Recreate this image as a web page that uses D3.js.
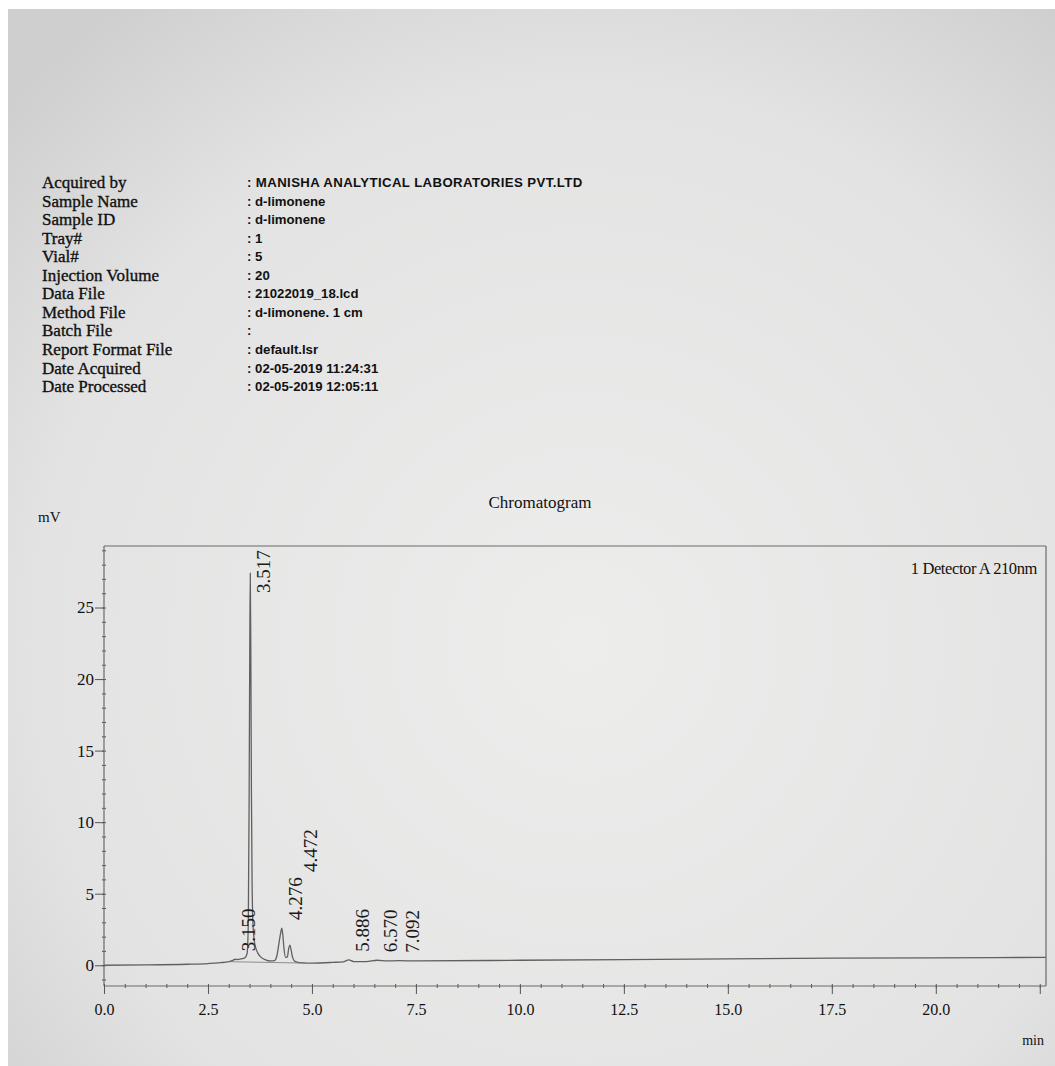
<!DOCTYPE html>
<html>
<head>
<meta charset="utf-8">
<script src="https://cdn.jsdelivr.net/npm/d3@7"></script>
<style>
  html, body { margin: 0; padding: 0; background: #ffffff; }
  svg { display: block; }
</style>
</head>
<body>
<svg id="chart" width="1055" height="1066"></svg>
<script>
// ---------- header data ----------
const headerLabels = ["Acquired by", "Sample Name", "Sample ID", "Tray#", "Vial#", "Injection Volume",
  "Data File", "Method File", "Batch File", "Report Format File", "Date Acquired", "Date Processed"];
const headerValues = [": MANISHA ANALYTICAL LABORATORIES PVT.LTD", ": d-limonene", ": d-limonene", ": 1", ": 5", ": 20",
  ": 21022019_18.lcd", ": d-limonene. 1 cm", ":", ": default.lsr", ": 02-05-2019 11:24:31", ": 02-05-2019 12:05:11"];

// ---------- chart data ----------
const chartTitle = "Chromatogram";
const yUnit = "mV";
const xUnit = "min";
const detectorLabel = "1 Detector A 210nm";

// trace: retention time (min) and signal (mV)
const traceTime = [0.0, 1.0, 2.0, 2.5, 2.8, 3.0, 3.1, 3.15, 3.2, 3.3, 3.38, 3.44, 3.47, 3.49, 3.505, 3.517,
  3.53, 3.545, 3.56, 3.58, 3.61, 3.65, 3.70, 3.78, 3.9, 4.0, 4.1, 4.16, 4.21, 4.25, 4.276, 4.30, 4.33, 4.37,
  4.41, 4.44, 4.472, 4.50, 4.54, 4.60, 4.70, 4.85, 5.0, 5.5, 5.75, 5.886, 6.0, 6.3, 6.570, 6.8, 7.092, 7.5,
  10.0, 12.5, 15.0, 17.5, 20.0, 22.65];
const traceSignal = [0.0, 0.02, 0.07, 0.12, 0.18, 0.25, 0.34, 0.42, 0.40, 0.45, 0.5, 0.8, 3.0, 12.0, 22.0, 27.4,
  22.0, 12.0, 6.0, 3.0, 1.8, 1.2, 0.85, 0.55, 0.36, 0.30, 0.33, 0.7, 1.6, 2.3, 2.6, 2.1, 1.1, 0.55,
  0.6, 1.15, 1.4, 1.05, 0.5, 0.25, 0.18, 0.15, 0.15, 0.2, 0.24, 0.38, 0.26, 0.26, 0.35, 0.3, 0.32, 0.3,
  0.35, 0.4, 0.45, 0.5, 0.52, 0.55];

const peakTimes = [3.150, 3.517, 4.276, 4.472, 5.886, 6.570, 7.092];
const peakHeights = [0.42, 27.4, 2.6, 1.4, 0.38, 0.35, 0.32];

const xMajorTicks = [0, 2.5, 5, 7.5, 10, 12.5, 15, 17.5, 20, 22.5];
const xTickLabels = ["0.0", "2.5", "5.0", "7.5", "10.0", "12.5", "15.0", "17.5", "20.0", ""];
const yMajorTicks = [0, 5, 10, 15, 20, 25];
const xDomain = [0, 22.65];
const yDomain = [-1.45, 29.3];

// ---------- drawing ----------
(function draw() {
const svg = d3.select("#chart");
const W = 1055, H = 1066;
const serif = "'Liberation Serif', 'Times New Roman', serif";
const sans = "'Liberation Sans', Arial, sans-serif";

// paper (photo) background
const defs = svg.append("defs");
const grad = defs.append("radialGradient").attr("id", "paper")
  .attr("cx", "55%").attr("cy", "60%").attr("r", "75%");
grad.append("stop").attr("offset", "0%").attr("stop-color", "#ededec");
grad.append("stop").attr("offset", "70%").attr("stop-color", "#e3e3e3");
grad.append("stop").attr("offset", "100%").attr("stop-color", "#cfcfcf");
svg.append("rect").attr("x", 8).attr("y", 9).attr("width", W - 8).attr("height", H - 9)
  .attr("fill", "url(#paper)");

// header block
const rowY = i => 188 + i * 18.55;
const hdr = svg.append("g").attr("fill", "#111");
hdr.selectAll("text.lbl").data(headerLabels).join("text")
  .attr("class", "lbl")
  .attr("x", 42).attr("y", (d, i) => rowY(i))
  .attr("font-family", serif).attr("font-size", 17)
  .attr("stroke", "#111").attr("stroke-width", 0.35)
  .text(d => d);
hdr.selectAll("text.val").data(headerValues).join("text")
  .attr("class", "val")
  .attr("x", 247).attr("y", (d, i) => rowY(i) - 1)
  .attr("font-family", sans).attr("font-size", 13.2).attr("font-weight", "bold")
  .attr("letter-spacing", (d, i) => i === 0 ? 0.4 : 0)
  .text(d => d);

// plot area
const pLeft = 104, pRight = 1046, pTop = 546, pBottom = 986;
const x = d3.scaleLinear().domain(xDomain).range([pLeft, pRight]);
const y = d3.scaleLinear().domain(yDomain).range([pBottom, pTop]);

const lineColor = "#6a6a6a";

// title and unit labels
svg.append("text").attr("x", 540).attr("y", 508).attr("text-anchor", "middle")
  .attr("font-family", serif).attr("font-size", 17).attr("fill", "#111").text(chartTitle);
svg.append("text").attr("x", 38).attr("y", 522)
  .attr("font-family", serif).attr("font-size", 15).attr("fill", "#111").text(yUnit);
svg.append("text").attr("x", 1044).attr("y", 1045).attr("text-anchor", "end")
  .attr("font-family", serif).attr("font-size", 14).attr("fill", "#111").text(xUnit);
svg.append("text").attr("x", 1037).attr("y", 574).attr("text-anchor", "end")
  .attr("font-family", serif).attr("font-size", 16.5).attr("letter-spacing", -0.4)
  .attr("fill", "#111").text(detectorLabel);

// frame top and right
svg.append("line").attr("x1", pLeft).attr("x2", pRight).attr("y1", pTop).attr("y2", pTop)
  .attr("stroke", lineColor).attr("stroke-width", 1.2);
svg.append("line").attr("x1", pRight).attr("x2", pRight).attr("y1", pTop).attr("y2", pBottom)
  .attr("stroke", lineColor).attr("stroke-width", 1.2);

// y axis
const yMinor = d3.range(Math.ceil(yDomain[0]), Math.floor(yDomain[1]) + 1);
const yAxisMinor = svg.append("g").attr("transform", `translate(${pLeft + 2},0)`)
  .call(d3.axisLeft(y).tickValues(yMinor).tickSize(4).tickFormat(""));
yAxisMinor.select(".domain").remove();
yAxisMinor.selectAll(".tick line").attr("stroke", "#555");
const yAxis = svg.append("g").attr("transform", `translate(${pLeft},0)`)
  .call(d3.axisLeft(y).tickValues(yMajorTicks).tickSize(9).tickPadding(1).tickFormat(d3.format("d")));
yAxis.select(".domain").attr("d", `M0,${pTop}V${pBottom}`).attr("stroke", lineColor).attr("stroke-width", 1.2);
yAxis.selectAll(".tick line").attr("stroke", "#555");
yAxis.selectAll(".tick text").attr("font-family", serif).attr("font-size", 17).attr("fill", "#111");

// x axis
const xMinor = d3.range(0, xDomain[1], 0.5);
const xAxisMinor = svg.append("g").attr("transform", `translate(0,${pBottom - 2})`)
  .call(d3.axisBottom(x).tickValues(xMinor).tickSize(4).tickFormat(""));
xAxisMinor.select(".domain").remove();
xAxisMinor.selectAll(".tick line").attr("stroke", "#555");
const xAxis = svg.append("g").attr("transform", `translate(0,${pBottom})`)
  .call(d3.axisBottom(x).tickValues(xMajorTicks).tickSize(8).tickPadding(10)
    .tickFormat((d, i) => xTickLabels[i]));
xAxis.select(".domain").attr("d", `M${pLeft},0H${pRight}`).attr("stroke", lineColor).attr("stroke-width", 1.2);
xAxis.selectAll(".tick line").attr("stroke", "#555");
xAxis.selectAll(".tick text").attr("font-family", serif).attr("font-size", 16).attr("fill", "#111");

// trace
const traceData = traceTime.map((t, i) => [t, traceSignal[i]]);
svg.append("path").datum(traceData)
  .attr("fill", "none").attr("stroke", "#606060").attr("stroke-width", 1.3)
  .attr("d", d3.line().x(d => x(d[0])).y(d => y(d[1])).curve(d3.curveMonotoneX));

// integration baseline under the peak cluster
svg.append("path").datum([[traceTime[5], traceSignal[5]], [traceTime[41], traceSignal[41]]])
  .attr("fill", "none").attr("stroke", "#777").attr("stroke-width", 0.8)
  .attr("d", d3.line().x(d => x(d[0])).y(d => y(d[1])));

// peak labels (rotated, stacked to avoid overlap)
const fmt = d3.format(".3f");
const labelSize = 19;
const placed = [];
peakTimes.forEach((t, i) => {
  const txt = fmt(t);
  const len = 43;
  const hgt = 13;
  let xl = x(t) + 20;
  let yb = Math.max(y(peakHeights[i]) - 8, pTop + 4 + len);
  const prev = placed[placed.length - 1];
  if (prev) {
    const overlapX = (xl - hgt) < prev.xl && xl > (prev.xl - hgt);
    const overlapY = (yb - len) < prev.yb && yb > (prev.yb - len);
    if (overlapX && overlapY) {
      xl = prev.xl + hgt + 2;
      yb = prev.yb - len - 5;
    }
  }
  placed.push({ xl, yb });
  svg.append("text")
    .attr("transform", `translate(${xl},${yb}) rotate(-90)`)
    .attr("font-family", serif).attr("font-size", labelSize).attr("fill", "#1a1a1a")
    .text(txt);
});
})();
</script>
</body>
</html>
